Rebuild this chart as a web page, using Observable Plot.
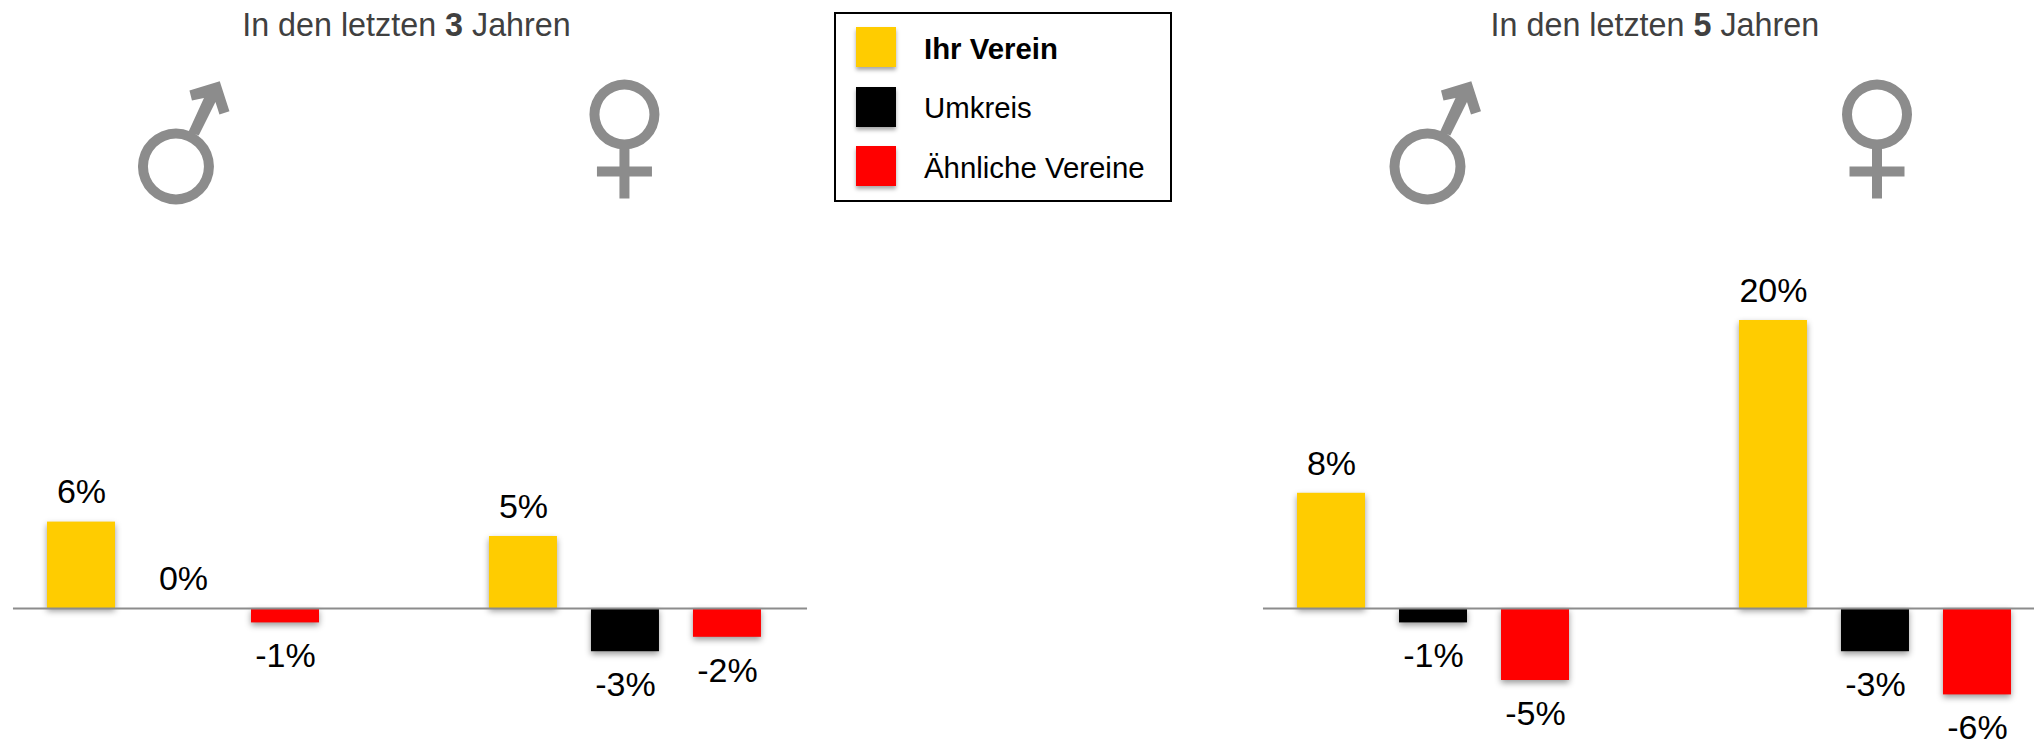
<!DOCTYPE html>
<html lang="de">
<head>
<meta charset="utf-8">
<title>Mitgliederentwicklung</title>
<script src="https://cdn.jsdelivr.net/npm/d3@7"></script>
<script src="https://cdn.jsdelivr.net/npm/@observablehq/plot@0.6"></script>
<style>
  html, body { margin: 0; padding: 0; background: #fff; overflow: hidden; }
  #page { position: relative; width: 2034px; height: 745px; font-family: "Liberation Sans", Arial, sans-serif; }
  #legend { position: absolute; left: 834px; top: 12px; width: 334px; height: 186px; border: 2px solid #000; background: #fff; box-sizing: content-box; }
  .entry { position: absolute; left: 20px; height: 40px; display: flex; align-items: center; font-size: 29.4px; color: #000; white-space: nowrap; }
  .swatch { width: 40px; height: 40px; margin-right: 28px; box-shadow: 0 3px 4px rgba(0,0,0,.35); }
  .entry .name { position: relative; top: 1.5px; }
</style>
</head>
<body>
<div id="page"></div>
<script>
const series = ["Ihr Verein", "Umkreis", "Ähnliche Vereine"];
const seriesColors = ["#ffcc00", "#000000", "#ff0000"];
const panelYears = ["3", "5"];
const genders = ["männlich", "weiblich"];

const men3 = [6, 0, -1];
const women3 = [5, -3, -2];
const men5 = [8, -1, -5];
const women5 = [20, -3, -6];
const panelValues = [[men3, women3], [men5, women5]];

// Layout in units of one bar slot
const genderStep = 4.333;
const panelStep = 12.255;
const halfBar = 1 / 3;

const rows = [];
panelValues.forEach((byGender, p) => byGender.forEach((values, g) => values.forEach((value, s) => {
  rows.push({series: series[s], value, slot: p * panelStep + g * genderStep + s});
})));

const titleOffset = [3.186, 3.17];
const titles = panelYears.map((year, p) => ({year, slot: p * panelStep + titleOffset[p]}));
const baselines = panelYears.map((year, p) => ({from: p * panelStep - 0.667, to: p * panelStep + 7.118}));

const glyphOffset = [[0.926, 0.99], [0.941, 1.015]];
const glyphs = [];
panelYears.forEach((_, p) => genders.forEach((gender, g) => {
  glyphs.push({gender, slot: p * panelStep + g * genderStep + glyphOffset[p][g]});
}));

function ring(ctx, r, w) {
  ctx.moveTo(r, 0);
  ctx.arc(0, 0, r, 0, 2 * Math.PI, false);
  ctx.closePath();
  ctx.moveTo(r - w, 0);
  ctx.arc(0, 0, r - w, 0, 2 * Math.PI, true);
  ctx.closePath();
}
const maleSymbol = {draw(ctx) {
  ring(ctx, 38, 10);
  const pts = [[13.5, -76], [43.8, -85.3], [53.5, -55.3], [43.5, -52], [39.5, -64.5], [22.8, -31], [12.8, -35.3], [28, -68.5], [16, -66]];
  ctx.moveTo(pts[0][0], pts[0][1]);
  pts.slice(1).forEach(q => ctx.lineTo(q[0], q[1]));
  ctx.closePath();
}};
const femaleSymbol = {draw(ctx) {
  ring(ctx, 35, 10);
  ctx.moveTo(-5, 33); ctx.lineTo(5, 33); ctx.lineTo(5, 52); ctx.lineTo(27.5, 52); ctx.lineTo(27.5, 62);
  ctx.lineTo(5, 62); ctx.lineTo(5, 84); ctx.lineTo(-5, 84); ctx.lineTo(-5, 62); ctx.lineTo(-27.5, 62);
  ctx.lineTo(-27.5, 52); ctx.lineTo(-5, 52);
  ctx.closePath();
}};

const pct = d => `${d.value}%`;
const font = "Liberation Sans, Arial, sans-serif";

const plot = Plot.plot({
  width: 2034,
  height: 745,
  marginTop: 0, marginRight: 0, marginBottom: 0, marginLeft: 0,
  style: {background: "transparent", fontFamily: font, overflow: "hidden"},
  x: {type: "linear", axis: null, domain: [-81 / 102, 1953 / 102], range: [0, 2034]},
  y: {type: "linear", axis: null, domain: [608 / 14.4, -137 / 14.4], range: [0, 745]},
  color: {domain: series, range: seriesColors},
  marks: [
    Plot.rect(rows, {
      x1: d => d.slot - halfBar, x2: d => d.slot + halfBar,
      y1: 0, y2: "value", fill: "series"
    }),
    Plot.ruleY(baselines, {y: () => 0, x1: "from", x2: "to", stroke: "#8c8c8c", strokeWidth: 2}),
    Plot.text(rows.filter(d => d.value >= 0), {
      x: "slot", y: "value", text: pct, dy: -29.5, fontSize: 34, fill: "#000"
    }),
    Plot.text(rows.filter(d => d.value < 0), {
      x: "slot", y: "value", text: pct, dy: 33.5, fontSize: 34, fill: "#000"
    }),
    Plot.text(titles, {
      x: "slot", y: () => 608 / 14.4, text: d => `In den letzten ${d.year} Jahren`,
      dy: 25.5, fontSize: 32.3, fill: "#404040"
    }),
    Plot.dot(glyphs.filter(d => d.gender === genders[0]), {
      x: "slot", y: () => (608 - 166) / 14.4, symbol: maleSymbol, r: 38, fill: "#8c8c8c", stroke: "none"
    }),
    Plot.dot(glyphs.filter(d => d.gender === genders[1]), {
      x: "slot", y: () => (608 - 114) / 14.4, symbol: femaleSymbol, r: 35, fill: "#8c8c8c", stroke: "none"
    })
  ]
});

// Soft shadow under the bars
d3.select(plot).selectAll('g[aria-label="rect"]').style("filter", "drop-shadow(0 3px 3px rgba(0,0,0,.4))");

// The year in the panel titles is bold
d3.select(plot).selectAll("text").filter(function() { return /^In den/.test(this.textContent); }).each(function() {
  const m = this.textContent.match(/^(.*?)(\d)(.*)$/);
  const t = d3.select(this).text("");
  t.append("tspan").text(m[1]);
  t.append("tspan").attr("font-weight", "bold").text(m[2]);
  t.append("tspan").text(m[3]);
});

const page = document.getElementById("page");
page.appendChild(plot);

const legend = d3.select(page).append("div").attr("id", "legend");
const entryTops = [13, 72.7, 132];
series.forEach((name, i) => {
  const entry = legend.append("div").attr("class", "entry").style("top", entryTops[i] + "px");
  entry.append("div").attr("class", "swatch").style("background", seriesColors[i]);
  entry.append("div").attr("class", "name").style("font-weight", i === 0 ? "bold" : "normal").text(name);
});
</script>
</body>
</html>
